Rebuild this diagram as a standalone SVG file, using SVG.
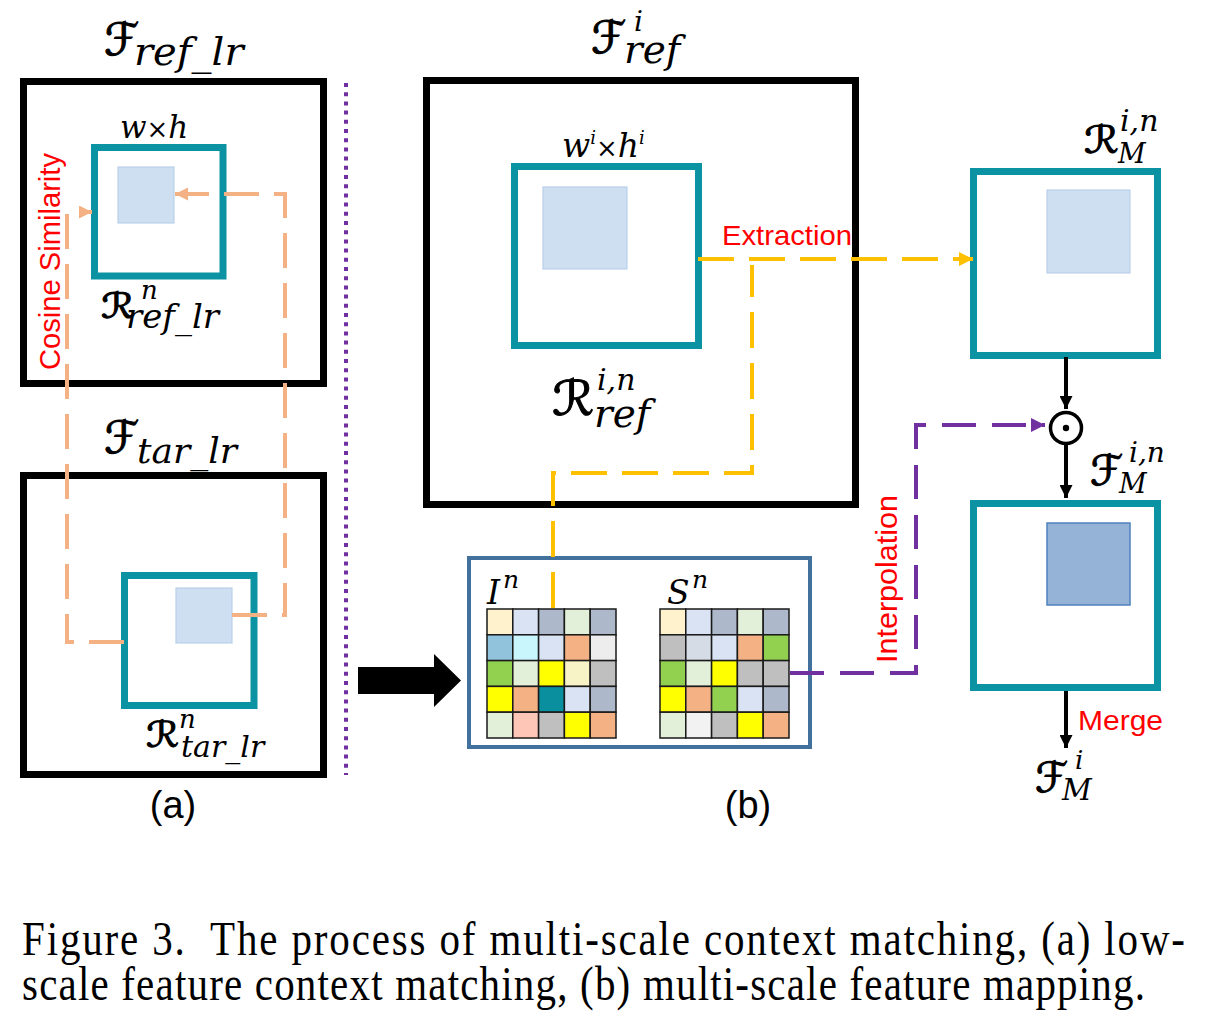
<svg xmlns="http://www.w3.org/2000/svg" width="1208" height="1016" viewBox="0 0 1208 1016">
<style>
.outer{fill:#fff;stroke:#000;stroke-width:7}
.teal{fill:#fff;stroke:#0B93A3;stroke-width:7}
.lb{fill:#CEDFF1;stroke:#B9D0EA;stroke-width:1.2}
.db{fill:#95B3D7;stroke:#4F81BD;stroke-width:1.5}
.scr{font-family:"DejaVu Sans",sans-serif;fill:#000;stroke:#000;stroke-width:1;stroke-linejoin:round}
.mi{font-family:"DejaVu Serif","Liberation Serif",serif;font-style:italic;fill:#000}
.up{font-family:"DejaVu Serif","Liberation Serif",serif;font-style:normal;fill:#000}
.red{font-family:"Liberation Sans",Arial,sans-serif;fill:#FF0000}
.lab{font-family:"Liberation Sans",Arial,sans-serif;fill:#000;font-size:38px;text-anchor:middle}
.cap{font-family:"Liberation Serif","Times New Roman",serif;fill:#000;font-size:41px}
.or{fill:none;stroke:#F4B183;stroke-width:4;stroke-dasharray:35 15}
.ye{fill:none;stroke:#FFC000;stroke-width:4;stroke-dasharray:36 15}
.pu{fill:none;stroke:#7030A0;stroke-width:4;stroke-dasharray:34 16}
.bk{fill:none;stroke:#000;stroke-width:4}
.cell{stroke:#1A1A1A;stroke-width:1.5}
</style>
<defs>
<marker id="mOr" viewBox="0 0 10 10" refX="10" refY="5" markerWidth="13" markerHeight="13" markerUnits="userSpaceOnUse" orient="auto"><path d="M0,0 L10,5 L0,10 z" fill="#F4B183"/></marker>
<marker id="mYe" viewBox="0 0 10 10" refX="10" refY="5" markerWidth="14" markerHeight="14" markerUnits="userSpaceOnUse" orient="auto"><path d="M0,0 L10,5 L0,10 z" fill="#FFC000"/></marker>
<marker id="mPu" viewBox="0 0 10 10" refX="10" refY="5" markerWidth="14" markerHeight="14" markerUnits="userSpaceOnUse" orient="auto"><path d="M0,0 L10,5 L0,10 z" fill="#7030A0"/></marker>
<marker id="mBk" viewBox="0 0 10 10" refX="10" refY="5" markerWidth="13" markerHeight="13" markerUnits="userSpaceOnUse" orient="auto"><path d="M0,0 L10,5 L0,10 z" fill="#000"/></marker>
</defs>
<rect width="1208" height="1016" fill="#fff"/>

<!-- (a) top: F_ref_lr -->
<g id="f-ref-lr">
<rect class="outer" x="23.5" y="81.5" width="300" height="302"/>
<text class="scr" x="104" y="55" font-size="45">ℱ</text>
<text class="mi" x="134" y="65" font-size="40">ref_lr</text>
</g>
<g id="r-ref-lr">
<rect class="teal" x="94.5" y="147.5" width="128.5" height="128.5"/>
<rect class="lb" x="118" y="167" width="56" height="56"/>
<text x="120" y="138" font-size="31"><tspan class="mi">w</tspan><tspan class="up" font-size="26">×</tspan><tspan class="mi">h</tspan></text>
<text class="scr" font-size="35" transform="translate(101,318) scale(1.2,1)">ℛ</text>
<text class="mi" x="141" y="299" font-size="26">n</text>
<text class="mi" x="126" y="328" font-size="34">ref_lr</text>
</g>

<!-- (a) bottom: F_tar_lr -->
<g id="f-tar-lr">
<rect class="outer" x="23.5" y="475.5" width="300" height="299"/>
<text class="scr" x="104" y="453" font-size="45">ℱ</text>
<text class="mi" x="137" y="463" font-size="36">tar_lr</text>
</g>
<g id="r-tar-lr">
<rect class="teal" x="124.5" y="575.5" width="129.5" height="130"/>
<rect class="lb" x="176" y="588" width="56" height="55"/>
<text class="scr" font-size="36" transform="translate(146,747) scale(1.15,1)">ℛ</text>
<text class="mi" x="179" y="728" font-size="26">n</text>
<text class="mi" x="181" y="757" font-size="30">tar_lr</text>
</g>
<text id="label-a" class="lab" x="173" y="818">(a)</text>

<!-- separator -->
<line x1="346" y1="83" x2="346" y2="775" stroke="#7030A0" stroke-width="4" stroke-dasharray="4 5.2"/>

<!-- big arrow -->
<polygon id="big-arrow" points="358,667 434,667 434,654 461,680.5 434,707 434,694 358,694" fill="#000"/>

<!-- (b) F_ref^i -->
<g id="f-ref-i">
<rect class="outer" x="426.5" y="80.5" width="429" height="424"/>
<text class="scr" x="591" y="53" font-size="45">ℱ</text>
<text class="mi" x="634" y="31" font-size="28">i</text>
<text class="mi" x="624" y="63" font-size="39">ref</text>
</g>
<g id="r-ref-in">
<rect class="teal" x="514.5" y="166.5" width="184" height="179"/>
<rect class="lb" x="543" y="187" width="84" height="82"/>
<text x="562" y="157" font-size="33"><tspan class="mi">w</tspan><tspan class="mi" font-size="18" dy="-13">i</tspan><tspan class="up" font-size="26" dy="13">×</tspan><tspan class="mi">h</tspan><tspan class="mi" font-size="18" dy="-13">i</tspan></text>
<text class="scr" font-size="48" transform="translate(552,415) scale(1.1,1)">ℛ</text>
<text class="mi" x="597" y="390" font-size="30">i,n</text>
<text class="mi" x="594" y="427" font-size="39">ref</text>
</g>

<!-- grids -->
<g id="grids">
<rect x="469" y="558" width="341" height="189" fill="#fff" stroke="#41719C" stroke-width="4"/>
<text class="mi" x="487" y="604" font-size="33">I</text>
<text class="mi" x="503" y="588" font-size="25">n</text>
<text class="mi" x="667" y="604" font-size="33">S</text>
<text class="mi" x="692" y="588" font-size="25">n</text>
<g id="grid-i" class="cell">
<rect x="487" y="609" width="25.8" height="25.8" fill="#FFF2CC"/>
<rect x="512.8" y="609" width="25.8" height="25.8" fill="#DAE3F3"/>
<rect x="538.6" y="609" width="25.8" height="25.8" fill="#ADB9CA"/>
<rect x="564.4" y="609" width="25.8" height="25.8" fill="#E2F0D9"/>
<rect x="590.2" y="609" width="25.8" height="25.8" fill="#ADB9CA"/>
<rect x="487" y="634.8" width="25.8" height="25.8" fill="#92C3DC"/>
<rect x="512.8" y="634.8" width="25.8" height="25.8" fill="#C9F6FC"/>
<rect x="538.6" y="634.8" width="25.8" height="25.8" fill="#DAE3F3"/>
<rect x="564.4" y="634.8" width="25.8" height="25.8" fill="#F4B183"/>
<rect x="590.2" y="634.8" width="25.8" height="25.8" fill="#EDEDED"/>
<rect x="487" y="660.6" width="25.8" height="25.8" fill="#92D050"/>
<rect x="512.8" y="660.6" width="25.8" height="25.8" fill="#E2F0D9"/>
<rect x="538.6" y="660.6" width="25.8" height="25.8" fill="#FFFF00"/>
<rect x="564.4" y="660.6" width="25.8" height="25.8" fill="#F7F3C7"/>
<rect x="590.2" y="660.6" width="25.8" height="25.8" fill="#BFBFBF"/>
<rect x="487" y="686.4" width="25.8" height="25.8" fill="#FFFF00"/>
<rect x="512.8" y="686.4" width="25.8" height="25.8" fill="#F4B183"/>
<rect x="538.6" y="686.4" width="25.8" height="25.8" fill="#0A8F9E"/>
<rect x="564.4" y="686.4" width="25.8" height="25.8" fill="#DAE3F3"/>
<rect x="590.2" y="686.4" width="25.8" height="25.8" fill="#ADB9CA"/>
<rect x="487" y="712.2" width="25.8" height="25.8" fill="#E2F0D9"/>
<rect x="512.8" y="712.2" width="25.8" height="25.8" fill="#FEC6B6"/>
<rect x="538.6" y="712.2" width="25.8" height="25.8" fill="#BFBFBF"/>
<rect x="564.4" y="712.2" width="25.8" height="25.8" fill="#FFFF00"/>
<rect x="590.2" y="712.2" width="25.8" height="25.8" fill="#F4B183"/>
</g>
<g id="grid-s" class="cell">
<rect x="660" y="609" width="25.8" height="25.8" fill="#FFF2CC"/>
<rect x="685.8" y="609" width="25.8" height="25.8" fill="#DAE3F3"/>
<rect x="711.6" y="609" width="25.8" height="25.8" fill="#ADB9CA"/>
<rect x="737.4" y="609" width="25.8" height="25.8" fill="#E2F0D9"/>
<rect x="763.2" y="609" width="25.8" height="25.8" fill="#ADB9CA"/>
<rect x="660" y="634.8" width="25.8" height="25.8" fill="#BFBFBF"/>
<rect x="685.8" y="634.8" width="25.8" height="25.8" fill="#D6DCE5"/>
<rect x="711.6" y="634.8" width="25.8" height="25.8" fill="#DAE3F3"/>
<rect x="737.4" y="634.8" width="25.8" height="25.8" fill="#F4B183"/>
<rect x="763.2" y="634.8" width="25.8" height="25.8" fill="#92D050"/>
<rect x="660" y="660.6" width="25.8" height="25.8" fill="#92D050"/>
<rect x="685.8" y="660.6" width="25.8" height="25.8" fill="#E2F0D9"/>
<rect x="711.6" y="660.6" width="25.8" height="25.8" fill="#FFFF00"/>
<rect x="737.4" y="660.6" width="25.8" height="25.8" fill="#BFBFBF"/>
<rect x="763.2" y="660.6" width="25.8" height="25.8" fill="#BFBFBF"/>
<rect x="660" y="686.4" width="25.8" height="25.8" fill="#FFFF00"/>
<rect x="685.8" y="686.4" width="25.8" height="25.8" fill="#F4B183"/>
<rect x="711.6" y="686.4" width="25.8" height="25.8" fill="#92D050"/>
<rect x="737.4" y="686.4" width="25.8" height="25.8" fill="#DAE3F3"/>
<rect x="763.2" y="686.4" width="25.8" height="25.8" fill="#ADB9CA"/>
<rect x="660" y="712.2" width="25.8" height="25.8" fill="#E2F0D9"/>
<rect x="685.8" y="712.2" width="25.8" height="25.8" fill="#F2F2F2"/>
<rect x="711.6" y="712.2" width="25.8" height="25.8" fill="#BFBFBF"/>
<rect x="737.4" y="712.2" width="25.8" height="25.8" fill="#FFFF00"/>
<rect x="763.2" y="712.2" width="25.8" height="25.8" fill="#F4B183"/>
</g>
</g>
<text id="label-b" class="lab" x="748" y="818">(b)</text>

<!-- right column -->
<g id="r-m-in">
<rect class="teal" x="973.5" y="171.5" width="184" height="184"/>
<rect class="lb" x="1047" y="190" width="83" height="83"/>
<text class="scr" font-size="38" transform="translate(1084,153) scale(1.15,1)">ℛ</text>
<text class="mi" x="1120" y="131" font-size="30">i,n</text>
<text class="mi" x="1118" y="163" font-size="27">M</text>
</g>
<g id="odot">
<circle cx="1066" cy="428" r="15.5" fill="#fff" stroke="#000" stroke-width="3.5"/>
<circle cx="1066" cy="428" r="3.2" fill="#000"/>
</g>
<g id="f-m-in">
<rect class="teal" x="973.5" y="503.5" width="184" height="184"/>
<rect class="db" x="1047" y="523" width="83" height="82"/>
<text class="scr" x="1090" y="485" font-size="42">ℱ</text>
<text class="mi" x="1129" y="462" font-size="28">i,n</text>
<text class="mi" x="1119" y="493" font-size="27">M</text>
</g>
<g id="f-m-i">
<text class="scr" x="1035" y="792" font-size="42">ℱ</text>
<text class="mi" x="1075" y="769" font-size="26">i</text>
<text class="mi" x="1062" y="800" font-size="29">M</text>
</g>

<!-- connectors -->
<g id="connectors">
<path class="or" d="M124,642 H67 V212 H92" marker-end="url(#mOr)"/>
<path class="or" d="M232,615 H285 V194 H175" marker-end="url(#mOr)"/>
<path class="ye" d="M698,259 H973" marker-end="url(#mYe)"/>
<path class="ye" d="M553,608 V473 H752 V265"/>
<path class="pu" d="M790,673 H916 V425 H1045" marker-end="url(#mPu)"/>
<path class="bk" d="M1066,357 V409" marker-end="url(#mBk)"/>
<path class="bk" d="M1066,444 V498" marker-end="url(#mBk)"/>
<path class="bk" d="M1066,691 V748" marker-end="url(#mBk)"/>
</g>

<!-- red labels -->
<text class="red" font-size="29" textLength="217" lengthAdjust="spacingAndGlyphs" transform="translate(60,370) rotate(-90)">Cosine Similarity</text>
<text class="red" x="722" y="245" font-size="28" textLength="130" lengthAdjust="spacingAndGlyphs">Extraction</text>
<text class="red" font-size="30" textLength="168" lengthAdjust="spacingAndGlyphs" transform="translate(897,663) rotate(-90)">Interpolation</text>
<text class="red" x="1078" y="730" font-size="28" textLength="85" lengthAdjust="spacingAndGlyphs">Merge</text>

<!-- caption -->
<text class="cap" transform="translate(22,955) scale(1,1.2)" textLength="1163" lengthAdjust="spacing" xml:space="preserve">Figure 3.  The process of multi-scale context matching, (a) low-</text>
<text class="cap" transform="translate(22,1000) scale(1,1.2)" textLength="1123" lengthAdjust="spacing">scale feature context matching, (b) multi-scale feature mapping.</text>
</svg>
